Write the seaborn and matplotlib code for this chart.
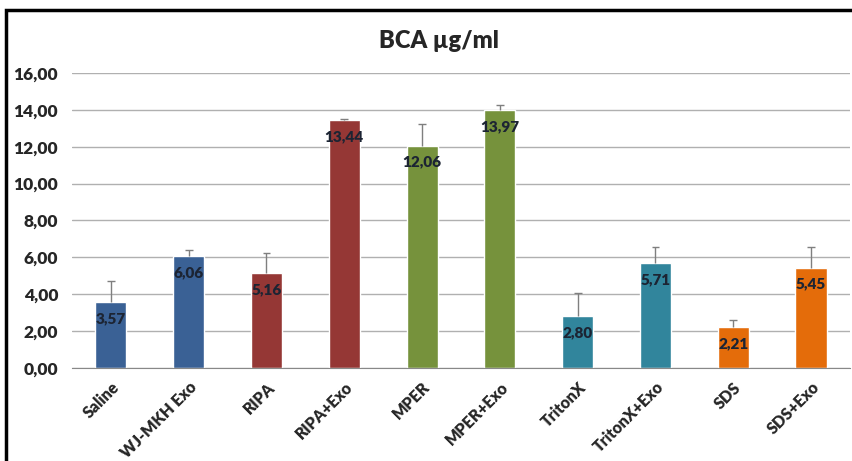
import numpy as np
import pandas as pd
import matplotlib
matplotlib.use('Agg')
import matplotlib.pyplot as plt
import seaborn as sns
from matplotlib.patches import Rectangle

# data
groups = ['Saline', 'WJ-MKH Exo', 'RIPA', 'RIPA+Exo', 'MPER', 'MPER+Exo',
          'TritonX', 'TritonX+Exo', 'SDS', 'SDS+Exo']
values = [3.57, 6.06, 5.16, 13.44, 12.06, 13.97, 2.80, 5.71, 2.21, 5.45]
errors = [1.13, 0.32, 1.10, 0.08, 1.20, 0.28, 1.25, 0.87, 0.40, 1.13]
bar_colors = ['#3A6195', '#3A6195', '#953735', '#953735', '#76923C', '#76923C',
              '#31859C', '#31859C', '#E46C0A', '#E46C0A']

df = pd.DataFrame({'group': groups, 'value': values})

sns.set_style('white')
plt.rcParams['font.family'] = ['Lato', 'DejaVu Sans']

fig = plt.figure(figsize=(8.53, 4.61), dpi=100)
ax = fig.add_axes([0.0844, 0.2017, 0.912, 0.64])

sns.barplot(data=df, x='group', y='value', hue='group', palette=bar_colors,
            width=0.4, legend=False, ax=ax, saturation=1)

# upper error bars only
x = np.arange(len(groups))
tops = np.array(values) + np.array(errors)
ax.vlines(x, values, tops, color='#7f7f7f', linewidth=1)
ax.hlines(tops, x - 0.05, x + 0.05, color='#7f7f7f', linewidth=1)

for xi, v in zip(x, values):
    ax.text(xi, v - 0.9, f'{v:.2f}'.replace('.', ','), ha='center', va='center',
            fontsize=11, fontweight='heavy', color='#1c2433')

ax.set_ylim(0, 16)
ax.set_xlim(-0.5, len(groups) - 0.5)
ax.set_yticks(np.arange(0, 17, 2))
ax.set_yticklabels([f'{t:.2f}'.replace('.', ',') for t in np.arange(0, 17, 2)],
                   fontsize=12.5, fontweight='heavy')
ax.yaxis.grid(True, color='#b0b0b0', linewidth=1)
ax.set_axisbelow(True)
ax.set_xlabel('')
ax.set_ylabel('')
ax.set_xticks(x)
ax.set_xticklabels(groups, rotation=45, ha='right', rotation_mode='anchor',
                   fontsize=11.5, fontweight='heavy')
ax.set_xticks(np.arange(-0.5, len(groups)), minor=True)
ax.tick_params(axis='x', which='major', length=0, pad=8)
ax.tick_params(axis='x', which='minor', length=5, color='#888888', width=1)
ax.tick_params(axis='y', length=0, pad=10)
for s in ['left', 'right', 'top']:
    ax.spines[s].set_visible(False)
ax.spines['bottom'].set_color('#888888')

fig.text(0.514, 0.911, 'BCA µg/ml', ha='center', va='center', fontsize=17,
         fontweight='heavy')

fig.patches.append(Rectangle((6 / 853, -0.05), 1.1, 1 - 10 / 461 + 0.05,
                             transform=fig.transFigure, fill=False,
                             edgecolor='black', linewidth=2.5))

fig.savefig('out.png', dpi=100)
